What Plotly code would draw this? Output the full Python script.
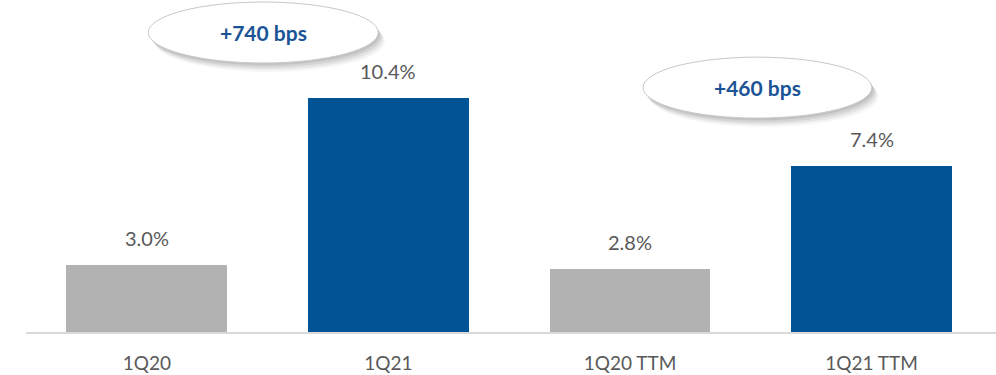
import plotly.graph_objects as go

# Margin data
categories = ["1Q20", "1Q21", "1Q20 TTM", "1Q21 TTM"]
margin_pct = [3.0, 10.4, 2.8, 7.4]
bar_colors = ["#B2B2B2", "#005496", "#B2B2B2", "#005496"]
callout_texts = ["+740 bps", "+460 bps"]
# Callout ellipses in axis units: (x0, x1, y0, y1)
callout_boxes = [(0.006, 0.958, 11.96, 14.67), (2.054, 3.001, 9.51, 12.22)]

FONT = "Lato, 'Open Sans', sans-serif"
TEXT_GREY = "#595959"
BLUE = "#1B5496"

fig = go.Figure()
fig.add_trace(go.Bar(
    x=list(range(len(categories))),
    y=margin_pct,
    marker=dict(color=bar_colors, line=dict(width=0)),
    width=0.666,
    hoverinfo="skip",
))

# Value labels above bars
for i, v in enumerate(margin_pct):
    fig.add_annotation(
        x=i, y=v, xref="x", yref="y",
        text=f"{v:.1f}%", showarrow=False,
        yanchor="bottom", yshift=13,
        font=dict(family=FONT, size=20, color=TEXT_GREY),
    )

# Callout ellipses with a soft drop shadow
shapes = []
for (x0, x1, y0, y1), txt in zip(callout_boxes, callout_texts):
    dx = (x1 - x0) * 0.012
    dy = (y1 - y0) * 0.06
    for k, alpha in [(4, 0.06), (3, 0.09), (2, 0.11), (1, 0.13)]:
        shapes.append(dict(
            type="circle", xref="x", yref="y",
            x0=x0 + dx * k * 0.6, x1=x1 + dx * k * 0.6,
            y0=y0 - dy * k * 0.6, y1=y1 - dy * k * 0.6,
            fillcolor=f"rgba(80,80,80,{alpha})", line=dict(width=0),
            layer="above",
        ))
    shapes.append(dict(
        type="circle", xref="x", yref="y",
        x0=x0, x1=x1, y0=y0, y1=y1,
        fillcolor="white", line=dict(color="#C8C8C8", width=1),
        layer="above",
    ))
    fig.add_annotation(
        x=(x0 + x1) / 2, y=(y0 + y1) / 2, xref="x", yref="y",
        text=f"<b>{txt}</b>", showarrow=False,
        font=dict(family=FONT, size=21, color=BLUE),
    )

fig.update_layout(
    width=996, height=375,
    margin=dict(l=26, r=0, t=0, b=43),
    paper_bgcolor="white", plot_bgcolor="white",
    showlegend=False,
    shapes=shapes,
    bargap=0,
    xaxis=dict(
        range=[-0.5, 3.515],
        tickmode="array",
        tickvals=list(range(len(categories))),
        ticktext=categories,
        showline=True, linecolor="#D9D9D9", linewidth=2,
        showgrid=False, zeroline=False,
        ticks="outside", ticklen=13, tickcolor="rgba(0,0,0,0)",
        tickfont=dict(family=FONT, size=19, color=TEXT_GREY),
    ),
    yaxis=dict(
        range=[0, 14.76],
        visible=False,
        showgrid=False, zeroline=False,
    ),
)

fig.write_html("out.html")
